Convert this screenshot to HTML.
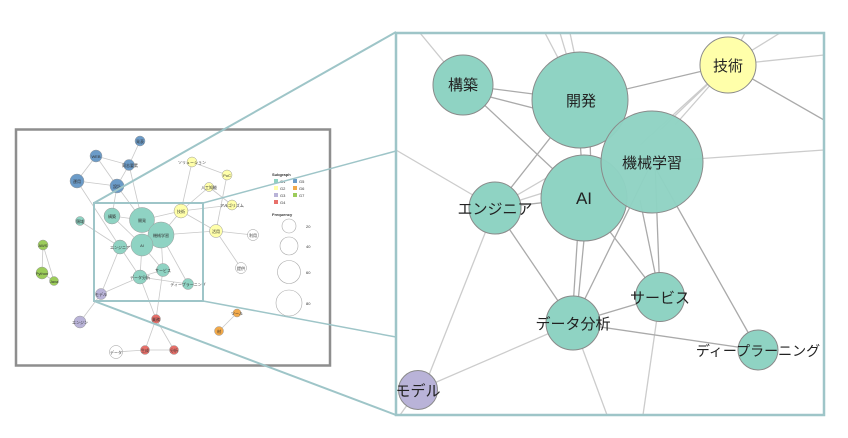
<!DOCTYPE html>
<html><head><meta charset="utf-8"><style>
html,body{margin:0;padding:0;background:#fff;}
svg{display:block;font-family:"Liberation Sans","Noto Sans CJK JP",sans-serif;}
</style></head><body>
<svg width="848" height="438" viewBox="0 0 848 438" xmlns="http://www.w3.org/2000/svg">
<rect width="848" height="438" fill="#fff"/>
<!-- small graph edges -->
<g stroke="#c8c8c8" stroke-width="0.8" fill="none">
<line x1="140" y1="141" x2="129" y2="165"/><line x1="96" y1="156" x2="129" y2="165"/>
<line x1="96" y1="156" x2="77" y2="181"/><line x1="96" y1="156" x2="117" y2="186"/>
<line x1="129" y1="165" x2="117" y2="186"/><line x1="77" y1="181" x2="117" y2="186"/>
<line x1="117" y1="186" x2="112" y2="216"/><line x1="117" y1="186" x2="142" y2="220"/>
<line x1="77" y1="181" x2="120" y2="247"/><line x1="129" y1="165" x2="142" y2="220"/>
<line x1="192" y1="162" x2="227" y2="175"/><line x1="192" y1="162" x2="181" y2="211"/>
<line x1="227" y1="175" x2="216" y2="231"/><line x1="209" y1="187" x2="232" y2="205"/>
<line x1="209" y1="187" x2="181" y2="211"/><line x1="181" y1="211" x2="216" y2="231"/>
<line x1="181" y1="211" x2="232" y2="205"/><line x1="216" y1="231" x2="253" y2="235"/>
<line x1="216" y1="231" x2="241" y2="268"/><line x1="161" y1="235" x2="216" y2="231"/>
<line x1="181" y1="211" x2="142" y2="220"/><line x1="181" y1="211" x2="161" y2="235"/>
<line x1="80" y1="221" x2="120" y2="247"/>
<line x1="112" y1="216" x2="142" y2="220"/><line x1="112" y1="216" x2="142" y2="245"/>
<line x1="120" y1="247" x2="142" y2="245"/><line x1="120" y1="247" x2="140" y2="277"/>
<line x1="120" y1="247" x2="101" y2="294"/><line x1="142" y1="245" x2="140" y2="277"/>
<line x1="142" y1="245" x2="163" y2="270"/><line x1="161" y1="235" x2="163" y2="270"/>
<line x1="161" y1="235" x2="188" y2="284"/><line x1="140" y1="277" x2="163" y2="270"/>
<line x1="140" y1="277" x2="188" y2="284"/><line x1="140" y1="277" x2="101" y2="294"/>
<line x1="140" y1="277" x2="156" y2="319"/><line x1="163" y1="270" x2="156" y2="319"/>
<line x1="101" y1="294" x2="80" y2="322"/><line x1="43" y1="245" x2="42" y2="273"/>
<line x1="43" y1="245" x2="54" y2="281"/><line x1="42" y1="273" x2="54" y2="281"/>
<line x1="156" y1="319" x2="145" y2="350"/><line x1="156" y1="319" x2="174" y2="350"/>
<line x1="145" y1="350" x2="174" y2="350"/><line x1="116" y1="352" x2="145" y2="350"/>
<line x1="237" y1="313" x2="219" y2="331"/>
</g>
<!-- small nodes -->
<g stroke="#999" stroke-width="0.5" font-size="4" text-anchor="middle" fill="#333">
<g fill="#6b9bc8"><circle cx="140" cy="141" r="5"/><circle cx="96" cy="156" r="6"/><circle cx="129" cy="165" r="5.5"/><circle cx="77" cy="181" r="7"/><circle cx="117" cy="186" r="7"/></g>
<g fill="#ffffaa"><circle cx="192" cy="162" r="5"/><circle cx="227" cy="175" r="5"/><circle cx="209" cy="187" r="4.5"/><circle cx="232" cy="205" r="5"/><circle cx="181" cy="211" r="7"/><circle cx="216" cy="231" r="6.5"/></g>
<g fill="#fff"><circle cx="253" cy="235" r="5.5"/><circle cx="241" cy="268" r="5.5"/><circle cx="116" cy="352" r="6.5"/></g>
<g fill="#8fd3c3"><circle cx="80" cy="221" r="4.5"/><circle cx="112" cy="216" r="8"/><circle cx="142" cy="220" r="12.5"/><circle cx="161" cy="235" r="13"/><circle cx="142" cy="245" r="11"/><circle cx="120" cy="247" r="7"/><circle cx="163" cy="270" r="6.5"/><circle cx="140" cy="277" r="7"/><circle cx="188" cy="284" r="5.5"/></g>
<g fill="#b9b3d8"><circle cx="101" cy="294" r="5.5"/><circle cx="80" cy="322" r="6"/></g>
<g fill="#9ccc5a"><circle cx="43" cy="245" r="5"/><circle cx="42" cy="273" r="6"/><circle cx="54" cy="281" r="4.5"/></g>
<g fill="#e8706a"><circle cx="156" cy="319" r="4.5"/><circle cx="145" cy="350" r="4.5"/><circle cx="174" cy="350" r="4.5"/></g>
<g fill="#f2a94a"><circle cx="237" cy="313" r="4"/><circle cx="219" cy="331" r="4.5"/></g>
</g>
<g font-size="4" text-anchor="middle" fill="#333">
<text x="140" y="143">発表</text><text x="96" y="158">WEB</text><text x="130" y="167">同志要素</text><text x="77" y="183">運用</text><text x="117" y="188">設計</text>
<text x="192" y="164">ソリューション</text><text x="227" y="177">PoC</text><text x="209" y="189">人工知能</text><text x="232" y="207">アルゴリズム</text><text x="181" y="213">技術</text><text x="216" y="233">活用</text>
<text x="253" y="237">利用</text><text x="241" y="270">提供</text><text x="80" y="223">領域</text><text x="112" y="218">構築</text><text x="142" y="222">開発</text><text x="161" y="237">機械学習</text><text x="142" y="247">AI</text>
<text x="120" y="249">エンジニア</text><text x="163" y="272">サービス</text><text x="140" y="279">データ分析</text><text x="188" y="286">ディープラーニング</text>
<text x="101" y="296">モデル</text><text x="80" y="324">エンジン</text><text x="43" y="247">AWS</text><text x="42" y="275">Python</text><text x="54" y="283">Java</text>
<text x="156" y="321">業務</text><text x="145" y="352">生成</text><text x="174" y="352">分析</text><text x="116" y="354">データ</text><text x="237" y="315">ツール</text><text x="219" y="333">材</text>
</g>
<!-- legend -->
<g font-size="4" fill="#333">
<text x="272" y="176" font-weight="bold">Subgraph</text>
<rect x="274" y="179" width="4" height="4" fill="#8fd3c3"/><text x="280" y="183">G1</text>
<rect x="293" y="179" width="4" height="4" fill="#6b9bc8"/><text x="299" y="183">G5</text>
<rect x="274" y="186" width="4" height="4" fill="#ffffaa"/><text x="280" y="190">G2</text>
<rect x="293" y="186" width="4" height="4" fill="#f2a94a"/><text x="299" y="190">G6</text>
<rect x="274" y="193" width="4" height="4" fill="#b9b3d8"/><text x="280" y="197">G3</text>
<rect x="293" y="193" width="4" height="4" fill="#9ccc5a"/><text x="299" y="197">G7</text>
<rect x="274" y="200" width="4" height="4" fill="#e8706a"/><text x="280" y="204">G4</text>
<text x="272" y="216" font-weight="bold">Frequency</text>
<text x="306" y="228">20</text><text x="306" y="248">40</text><text x="306" y="274">60</text><text x="306" y="305">80</text>
</g>
<g fill="none" stroke="#aaa" stroke-width="0.6">
<circle cx="289" cy="226" r="7"/><circle cx="289" cy="246" r="9"/><circle cx="289" cy="272" r="11.5"/><circle cx="289" cy="303" r="13"/>
</g>
<!-- outer frame -->
<rect x="16" y="129.5" width="314" height="236" fill="none" stroke="#8e8e8e" stroke-width="2.5"/>
<!-- highlight rect + connectors -->
<g stroke="#9ec5c8" fill="none">
<rect x="94" y="203" width="109" height="98" stroke-width="2"/>
<line x1="94" y1="203" x2="396" y2="32" stroke-width="2"/>
<line x1="203" y1="203" x2="396" y2="151" stroke-width="1.5"/>
<line x1="203" y1="301" x2="396" y2="337" stroke-width="1.5"/>
<line x1="94" y1="301" x2="396" y2="415" stroke-width="2"/>
</g>
<!-- big box -->
<rect x="396" y="33" width="428" height="382" fill="#fff"/>
<svg x="396" y="33" width="428" height="382" viewBox="396 33 428 382" overflow="hidden">
<g stroke="#ccc" stroke-width="1.3" fill="none">
<line x1="420" y1="33" x2="463" y2="85"/>
<line x1="396" y1="150" x2="495" y2="208"/>
<line x1="545" y1="33" x2="580" y2="100"/><line x1="560" y1="33" x2="580" y2="100"/><line x1="570" y1="33" x2="580" y2="80"/>
<line x1="728" y1="65" x2="824" y2="55"/><line x1="728" y1="65" x2="745" y2="33"/><line x1="728" y1="65" x2="780" y2="33"/>
<line x1="652" y1="162" x2="824" y2="150"/>
<line x1="495" y1="208" x2="425" y2="385"/>
<line x1="573" y1="323" x2="418" y2="390"/>
<line x1="573" y1="323" x2="607" y2="415"/>
<line x1="660" y1="297" x2="643" y2="415"/>
<line x1="418" y1="390" x2="400" y2="415"/>
<line x1="728" y1="65" x2="640" y2="145"/><line x1="728" y1="65" x2="660" y2="130"/><line x1="728" y1="65" x2="675" y2="125"/>
<line x1="495" y1="208" x2="584" y2="180"/><line x1="495" y1="208" x2="560" y2="170"/>
</g>
<g stroke="#aaa" stroke-width="1.3" fill="none">
<line x1="463" y1="85" x2="580" y2="100"/><line x1="463" y1="90" x2="580" y2="120"/>
<line x1="463" y1="85" x2="584" y2="198"/>
<line x1="580" y1="100" x2="728" y2="65"/>
<line x1="728" y1="65" x2="824" y2="120"/>
<line x1="580" y1="100" x2="495" y2="208"/>
<line x1="495" y1="208" x2="584" y2="198"/>
<line x1="495" y1="208" x2="573" y2="323"/>
<line x1="580" y1="140" x2="584" y2="198"/><line x1="590" y1="140" x2="592" y2="198"/>
<line x1="580" y1="198" x2="572" y2="323"/><line x1="588" y1="198" x2="576" y2="323"/>
<line x1="584" y1="198" x2="660" y2="297"/>
<line x1="652" y1="162" x2="573" y2="323"/><line x1="640" y1="200" x2="660" y2="297"/>
<line x1="655" y1="162" x2="660" y2="297"/>
<line x1="652" y1="162" x2="758" y2="350"/>
<line x1="573" y1="323" x2="660" y2="297"/>
<line x1="573" y1="323" x2="758" y2="350"/>
</g>
<g stroke="#8a8a8a" stroke-width="1">
<circle cx="463" cy="85" r="30" fill="#8fd3c3"/>
<circle cx="580" cy="100" r="48" fill="#8fd3c3"/>
<circle cx="728" cy="65" r="28" fill="#ffffaa"/>
<circle cx="495" cy="208" r="26" fill="#8fd3c3"/>
<circle cx="584" cy="198" r="43" fill="#8fd3c3"/>
<circle cx="652" cy="162" r="51" fill="#8fd3c3" fill-opacity="0.97"/>
<circle cx="660" cy="297" r="24.5" fill="#8fd3c3"/>
<circle cx="573" cy="323" r="27" fill="#8fd3c3"/>
<circle cx="758" cy="350" r="20" fill="#8fd3c3"/>
<circle cx="418" cy="390" r="19.5" fill="#b9b3d8"/>
</g>
<g font-size="15" text-anchor="middle" fill="#222">
<text x="463" y="90">構築</text>
<text x="581" y="106">開発</text>
<text x="728" y="71">技術</text>
<text x="652" y="168">機械学習</text>
<text x="584" y="204" font-size="17">AI</text>
<text x="495" y="214">エンジニア</text>
<text x="660" y="303">サービス</text>
<text x="573" y="329">データ分析</text>
<text x="758" y="356" font-size="14">ディープラーニング</text>
<text x="418" y="396">モデル</text>
</g>
</svg>
<rect x="396" y="33" width="428" height="382" fill="none" stroke="#9ec5c8" stroke-width="2.5"/>
</svg>
</body></html>
